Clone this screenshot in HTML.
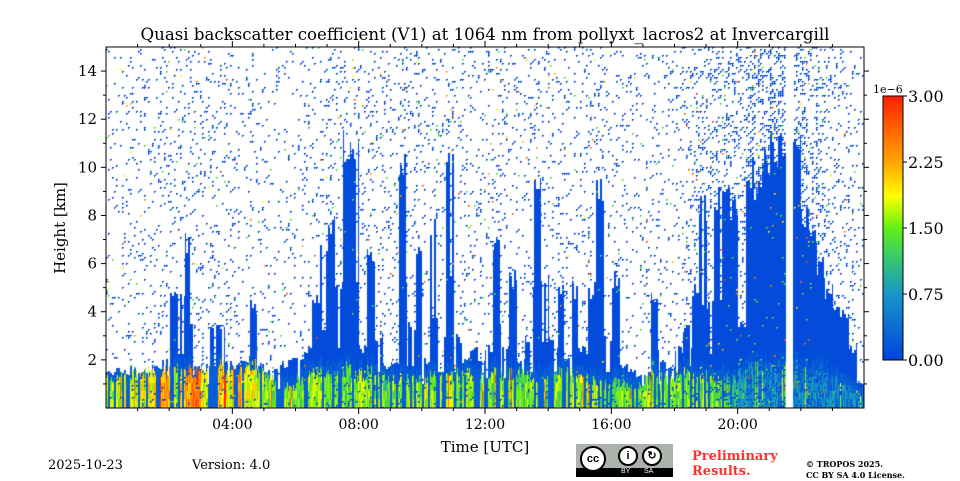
<!DOCTYPE html>
<html><head><meta charset="utf-8">
<style>
body{margin:0;background:#fff;width:960px;height:480px;overflow:hidden;position:relative;font-family:"DejaVu Serif","Liberation Serif",serif;}
.t{position:absolute;white-space:nowrap;color:#000;}
canvas{position:absolute;left:106px;top:47px;}
svg{position:absolute;left:0;top:0;}
</style></head><body>
<div class="t" style="left:0;width:970px;text-align:center;top:25px;font-size:16.6px;">Quasi backscatter coefficient (V1) at 1064 nm from pollyxt_lacros2 at Invercargill</div>
<canvas id="cv" width="758" height="361"></canvas>
<svg id="ax" width="960" height="480"></svg>
<div class="t" style="left:0;width:970px;text-align:center;top:438px;font-size:15px;">Time [UTC]</div>
<div class="t" style="left:60px;top:228px;font-size:15px;transform:translate(-50%,-50%) rotate(-90deg);">Height [km]</div>
<div class="t" style="left:873px;top:83px;font-size:11px;">1e−6</div>
<div class="t" style="left:48px;top:458px;font-size:13px;">2025-10-23</div>
<div class="t" style="left:192px;top:458px;font-size:13px;">Version: 4.0</div>
<div style="position:absolute;left:576px;top:444px;width:97px;height:33px;background:#aab2ab;">
 <div style="position:absolute;left:0;bottom:0;width:97px;height:9px;background:#000;"></div>
 <div style="position:absolute;left:4px;top:2px;width:22px;height:22px;border-radius:50%;background:#fff;border:2px solid #000;font:bold 11px 'Liberation Sans',sans-serif;text-align:center;line-height:22px;">cc</div>
 <div style="position:absolute;left:42px;top:2px;width:16px;height:16px;border-radius:50%;background:#fff;border:2px solid #000;font:bold 11px 'Liberation Sans',sans-serif;text-align:center;line-height:16px;">i</div>
 <div style="position:absolute;left:66px;top:2px;width:16px;height:16px;border-radius:50%;background:#fff;border:2px solid #000;font:bold 11px 'Liberation Sans',sans-serif;text-align:center;line-height:16px;">↻</div>
 <div style="position:absolute;left:45px;top:24px;color:#fff;font:7px 'Liberation Sans',sans-serif;">BY</div>
 <div style="position:absolute;left:68px;top:24px;color:#fff;font:7px 'Liberation Sans',sans-serif;">SA</div>
</div>
<div class="t" style="left:692px;top:449px;font-size:13px;font-weight:bold;color:#ff3030;line-height:15px;">Preliminary<br>Results.</div>
<div class="t" style="left:806px;top:459px;font-size:8px;font-weight:bold;line-height:11px;">© TROPOS 2025.<br>CC BY SA 4.0 License.</div>
<script>
// ---- data (per 15-minute bin, 96 bins from 00:00 to 24:00) ----
const denseTop=[1.5,1.6,1.5,1.7,1.6,1.5,1.8,2.0,5,4.5,7,1.8,2,3.5,3.5,2,1.8,2,4.3,1.8,1.5,1.6,1.8,2,2,2.5,4.5,6.5,8,5,11,10.5,2.5,6.5,3,1.8,2,10.5,3.5,6.5,2,7.5,3,11,3,2,2.5,2,2.5,7,2.5,5.5,2,3,10,5.5,3,5,2,5,2.5,5,9.5,3,5.5,1.8,1.6,1.4,1.5,4.8,2,1.8,2.5,3.5,5,8.5,4.5,9,9.5,8.5,3.5,10,9,10.5,11,11.5,0,11,8,7.5,6,5,4,4,2.5,1];
const blTop=[1.3,1.4,1.5,1.4,1.5,1.6,1.5,1.6,1.7,1.5,1.6,1.5,1.6,1.7,1.8,1.5,1.6,1.7,1.8,1.5,1.4,1.2,1.0,0.9,1.2,1.4,1.5,1.6,1.5,1.6,1.7,1.4,1.5,1.6,1.4,1.3,1.2,1.4,1.3,1.2,1.3,1.4,1.3,1.4,1.5,1.6,1.4,1.3,1.5,1.6,1.4,1.5,1.6,1.4,1.3,1.2,1.4,1.5,1.6,1.4,1.3,1.2,1.1,1.0,1.2,1.1,1.0,1.0,1.2,1.5,1.4,1.3,1.4,1.5,1.3,1.4,1.3,1.2,1.3,1.2,1.6,1.8,1.8,1.7,1.8,1.8,0,1.8,1.6,1.5,1.6,1.4,1.2,1.0,0.8,0.5];
const blValue=[0.55,0.55,0.6,0.55,0.6,0.65,0.7,0.75,0.55,0.7,0.8,0.85,0.6,0.55,0.7,0.6,0.8,0.6,0.65,0.55,0.5,0.5,0.5,0.5,0.5,0.5,0.55,0.5,0.45,0.5,0.45,0.5,0.55,0.5,0.5,0.45,0.5,0.5,0.55,0.5,0.6,0.55,0.5,0.55,0.5,0.55,0.5,0.5,0.5,0.45,0.5,0.5,0.45,0.5,0.5,0.45,0.5,0.5,0.55,0.5,0.5,0.55,0.5,0.45,0.45,0.5,0.45,0.45,0.5,0.5,0.5,0.52,0.5,0.5,0.52,0.5,0.5,0.45,0.42,0.35,0.3,0.22,0.2,0.2,0.2,0.2,0,0.2,0.2,0.2,0.18,0.18,0.18,0.18,0.18,0.18];
const speckle=[0.05,0.05,0.06,0.06,0.07,0.07,0.07,0.07,0.08,0.08,0.09,0.08,0.08,0.08,0.08,0.07,0.07,0.07,0.07,0.06,0.06,0.06,0.06,0.06,0.06,0.07,0.08,0.09,0.1,0.09,0.12,0.12,0.09,0.1,0.08,0.07,0.08,0.12,0.09,0.1,0.08,0.1,0.08,0.12,0.08,0.07,0.07,0.07,0.08,0.09,0.08,0.08,0.07,0.08,0.1,0.09,0.08,0.08,0.07,0.08,0.08,0.08,0.1,0.08,0.08,0.07,0.06,0.06,0.06,0.08,0.08,0.08,0.1,0.12,0.15,0.18,0.15,0.2,0.2,0.2,0.15,0.25,0.25,0.3,0.35,0.35,0,0.3,0.28,0.22,0.18,0.14,0.12,0.1,0.08,0.07];
const yTicks=[2,4,6,8,10,12,14];
const xTickHours=[4,8,12,16,20];
const xTickLabels=["04:00","08:00","12:00","16:00","20:00"];
const cbTicks=[0,0.75,1.5,2.25,3.0];
const cbLabels=["0.00","0.75","1.50","2.25","3.00"];

const X0=106,Y0=47,W=758,H=361,KMAX=15,HMAX=24,CBMAX=3;
const xs=h=>X0+h/HMAX*W;
const ys=k=>Y0+H-k/KMAX*H;
const stops=[[0,[0,68,221]],[0.25,[24,150,200]],[0.4,[60,205,100]],[0.5,[100,240,20]],[0.62,[255,255,0]],[0.75,[255,165,0]],[1,[255,32,0]]];
function cmap(v){v=Math.max(0,Math.min(1,v));for(let i=1;i<stops.length;i++){if(v<=stops[i][0]){const a=stops[i-1],b=stops[i],t=(v-a[0])/(b[0]-a[0]);return a[1].map((c,j)=>Math.round(c+(b[1][j]-c)*t));}}return stops[6][1];}
function hs(a,b){let n=(a*374761393+b*668265263)|0;n=(n^(n>>>13))*1274126177|0;return ((n^(n>>>16))>>>0)/4294967296;}

const cv=document.getElementById('cv'),ctx=cv.getContext('2d');
const img=ctx.createImageData(W,H),d=img.data;
for(let i=0;i<W*H*4;i++)d[i]=255;
function put(px,py,c){if(px<0||py<0||px>=W||py>=H)return;const o=(py*W+px)*4;d[o]=c[0];d[o+1]=c[1];d[o+2]=c[2];}
const nb=denseTop.length;
for(let px=0;px<W;px+=1){
  const hour=px/W*HMAX,b=Math.min(nb-1,Math.floor(hour/HMAX*nb));
  if(denseTop[b]===0)continue;
  const gapCol=hour<20 && hs(px>>1,33)<0.2;
  const top=gapCol?denseTop[b]*0.5:denseTop[b]*(0.9+0.15*hs(px>>1,7));
  const blOn=hs(px>>1,21)>(hour>20?0:0.3);
  const bl=blTop[b]*(0.75+0.4*hs(px,9));
  const yTop=Math.round(ys(top)-Y0),yBl=Math.round(ys(bl)-Y0);
  for(let py=0;py<H;py++){
    if(py>=yBl && blOn){const v=blValue[b]+(hs(px,py>>3)-0.5)*0.25+(hs(px,3)>0.95?0.35:0);put(px,py,cmap(v));}
    else if(py>=yTop){put(px,py,cmap(0.02+(py>yBl-12?0.06:0)));}
  }
}
for(let cx=0;cx<W;cx+=2){
  const b=Math.min(nb-1,Math.floor(cx/W*nb));
  for(let cy=0;cy<H;cy+=2){
    const r=hs(cx*3+1,cy*5+2);
    if(r<speckle[b]){const r2=hs(cx,cy+11);const v=r2>0.97?0.6+(r2-0.97)*12:(r2>0.93?0.45:0.02);const c=cmap(v);put(cx,cy,c);put(cx+1,cy,c);put(cx,cy+1,c);}
  }
}
ctx.putImageData(img,0,0);

// ---- axes ----
const NS='http://www.w3.org/2000/svg',svg=document.getElementById('ax');
function el(t,a,txt){const e=document.createElementNS(NS,t);for(const k in a)e.setAttribute(k,a[k]);if(txt!==undefined)e.textContent=txt;svg.appendChild(e);return e;}
const frame=el('rect',{x:X0,y:Y0,width:W,height:H,fill:'none',stroke:'#000','stroke-width':1});


for(let k=1;k<KMAX;k++){const y=ys(k),L=(k%2===0)?5:3;
  el('line',{x1:X0-L,x2:X0,y1:y,y2:y,stroke:'#000'});el('line',{x1:X0+W,x2:X0+W+L,y1:y,y2:y,stroke:'#000'});}
for(let h=1;h<HMAX;h++){const x=xs(h),L=(h%4===0)?6:3;
  el('line',{x1:x,x2:x,y1:Y0+H,y2:Y0+H+L,stroke:'#000'});el('line',{x1:x,x2:x,y1:Y0-L,y2:Y0,stroke:'#000'});}
yTicks.forEach(k=>{const t=el('text',{x:X0-9,y:ys(k)+5,'text-anchor':'end','font-size':15,'font-family':'DejaVu Serif,serif'},String(k));
  
  });
xTickHours.forEach((h,i)=>{const t=el('text',{x:xs(h),y:429,'text-anchor':'middle','font-size':14,'font-family':'DejaVu Serif,serif'},xTickLabels[i]);
  
  });
// colorbar
const CX=883,CY=96,CW=20,CH=264;
const defs=el('defs',{});const g=document.createElementNS(NS,'linearGradient');g.setAttribute('id','cg');g.setAttribute('x1',0);g.setAttribute('y1',1);g.setAttribute('x2',0);g.setAttribute('y2',0);defs.appendChild(g);
stops.forEach(s=>{const st=document.createElementNS(NS,'stop');st.setAttribute('offset',s[0]);st.setAttribute('stop-color','rgb('+s[1].join(',')+')');g.appendChild(st);});
const cb=el('rect',{x:CX,y:CY,width:CW,height:CH,fill:'url(#cg)',stroke:'#000','stroke-width':1});


cbTicks.forEach((v,i)=>{const y=CY+CH-v/CBMAX*CH;el('line',{x1:CX+CW,x2:CX+CW+4,y1:y,y2:y,stroke:'#000'});
  const t=el('text',{x:CX+CW+5,y:y+6,'font-size':16,'font-family':'DejaVu Serif,serif'},cbLabels[i]);
  
  });
</script>
</body></html>
